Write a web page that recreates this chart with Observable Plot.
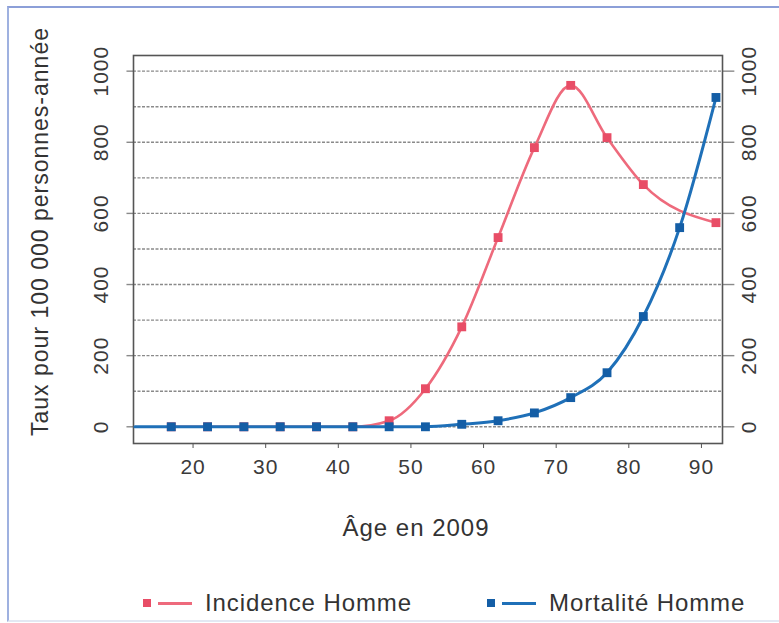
<!DOCTYPE html>
<html>
<head>
<meta charset="utf-8">
<script src="https://cdn.jsdelivr.net/npm/d3@7"></script>
<script src="https://cdn.jsdelivr.net/npm/@observablehq/plot@0.6"></script>
<style>
  html, body { margin: 0; padding: 0; background: #fff; }
  #wrap { position: relative; width: 779px; height: 623px; overflow: hidden; font-family: "Liberation Sans", Arial, sans-serif; }
  #border { position: absolute; left: 7px; top: 6px; width: 780px; height: 612px; border-left: 2px solid #9fb1e0; border-top: 2px solid #8c9fd8; border-bottom: 2px solid #e3e8f3; pointer-events: none; }
  #chart svg text { letter-spacing: 1px; }
  #legend { position: absolute; left: 0; top: 588px; width: 779px; height: 30px; font-size: 24px; color: #333; letter-spacing: 0.9px; }
  .item { position: absolute; top: 0; display: flex; align-items: center; height: 30px; }
  .sq { width: 8px; height: 8px; margin-right: 7px; }
  .ln { width: 34px; height: 3px; margin-right: 13px; }
</style>
</head>
<body>
<div id="wrap">
  <div id="chart"></div>
  <div id="legend"></div>
  <div id="border"></div>
</div>
<script>
// Data
const ages = [17, 22, 27, 32, 37, 42, 47, 52, 57, 62, 67, 72, 77, 82, 87, 92];
const mortalite = [0, 0, 0, 0, 0, 0, 0, 0, 7, 17, 39, 82, 152, 310, 560, 926];
const incidenceAges = [17, 22, 27, 32, 37, 42, 47, 52, 57, 62, 67, 72, 77, 82, 92];
const incidence = [0, 0, 0, 0, 0, 0, 17, 107, 281, 532, 785, 960, 813, 681, 574];
const mortaliteLineStart = { age: 12, value: 0 }; // blue line visible from the left edge
const xTicks = [20, 30, 40, 50, 60, 70, 80, 90];
const yTicks = [0, 200, 400, 600, 800, 1000];
const yGrid = [0, 100, 200, 300, 400, 500, 600, 700, 800, 900, 1000];
const seriesNames = ["Incidence Homme", "Mortalité Homme"];
const xLabel = "Âge en 2009";
const yLabel = "Taux pour 100 000 personnes-année";

const colors = { incLine: "#ee6a7c", incDot: "#e84d66", morLine: "#1f70b8", morDot: "#145ea6" };

const mortData = ages.map((a, i) => ({ age: a, value: mortalite[i] }));
const incData = incidenceAges.map((a, i) => ({ age: a, value: incidence[i] }));
const mortLine = [mortaliteLineStart, ...mortData];

const font = '"Liberation Sans", Arial, sans-serif';
const plain = d => String(d);

const chart = Plot.plot({
  width: 779,
  height: 560,
  marginTop: 55,
  marginBottom: 117,
  marginLeft: 133,
  marginRight: 57,
  style: { fontFamily: font, fontSize: "21px", color: "#3a3a3a", background: "transparent" },
  x: { domain: [11.8, 92.9] },
  y: { domain: [-47, 1044] },
  marks: [
    Plot.ruleY(yGrid, { stroke: "#8a8a8a", strokeWidth: 1.4, strokeDasharray: "3,1.5" }),
    Plot.ruleY(yTicks, { x1: 10.9, x2: 11.8, stroke: "#8a8a8a", strokeWidth: 1.4, clip: false }),
    Plot.ruleY(yTicks, { x1: 92.9, x2: 94.6, stroke: "#8a8a8a", strokeWidth: 1.4, clip: false }),
    Plot.frame({ stroke: "#555", strokeWidth: 1.6 }),
    Plot.axisX({ ticks: xTicks, tickSize: 5, tickPadding: 11, label: null, stroke: "#555" }),
    Plot.axisY({ anchor: "left", ticks: yTicks, tickFormat: plain, tickSize: 0, tickPadding: 26, tickRotate: -90, label: null }),
    Plot.axisY({ anchor: "right", ticks: yTicks, tickFormat: plain, tickSize: 0, tickPadding: 33, tickRotate: -90, label: null }),
    Plot.line(incData, { x: "age", y: "value", stroke: colors.incLine, strokeWidth: 2.6, curve: "monotone-x" }),
    Plot.dot(incData, { x: "age", y: "value", symbol: "square", r: 5, fill: colors.incDot }),
    Plot.line(mortLine, { x: "age", y: "value", stroke: colors.morLine, strokeWidth: 3, curve: "monotone-x" }),
    Plot.dot(mortData, { x: "age", y: "value", symbol: "square", r: 5, fill: colors.morDot }),
    Plot.text([xLabel], { frameAnchor: "bottom", dy: 92, dx: -12, fontSize: 24, fill: "#333" }),
    Plot.text([yLabel], { frameAnchor: "left", textAnchor: "middle", rotate: -90, dx: -93, dy: -18, fontSize: 23, fill: "#333" })
  ]
});
document.getElementById("chart").appendChild(chart);

// Legend
const legend = document.getElementById("legend");
const legendItems = [
  { name: seriesNames[0], dot: colors.incDot, line: colors.incLine, left: 143 },
  { name: seriesNames[1], dot: colors.morDot, line: colors.morLine, left: 487 }
];
for (const it of legendItems) {
  const d = document.createElement("div");
  d.className = "item";
  d.style.left = it.left + "px";
  d.innerHTML = `<span class="sq" style="background:${it.dot}"></span><span class="ln" style="background:${it.line}"></span><span>${it.name}</span>`;
  legend.appendChild(d);
}
</script>
</body>
</html>
